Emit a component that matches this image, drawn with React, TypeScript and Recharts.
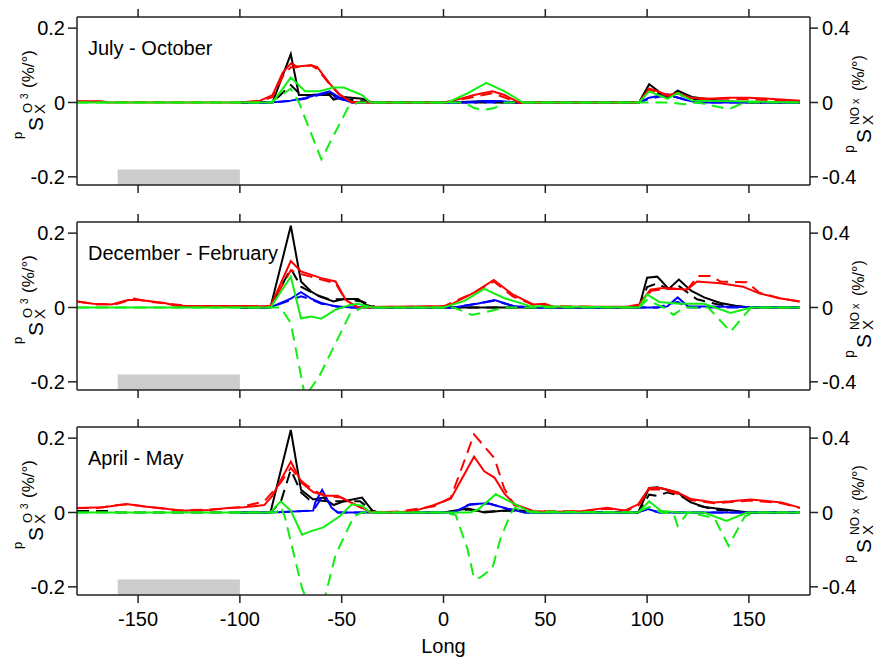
import React from 'react';
import { LineChart, Line, XAxis, YAxis, ReferenceArea } from 'recharts';

type Pt = [number, number];

// ---------- shared axis values ----------
const LONG_TICKS = [-150, -100, -50, 0, 50, 100, 150];
const LONG_DOMAIN: [number, number] = [-180, 180];
const LEFT_TICKS = [-0.2, 0, 0.2];
const LEFT_DOMAIN: [number, number] = [-0.222, 0.23];
const RIGHT_TICKS = [-0.4, 0, 0.4];
const RIGHT_DOMAIN: [number, number] = [-0.444, 0.46];
const SHADE_LON: [number, number] = [-160, -100];
const SHADE_TOP = -0.18;
const PANEL_TITLES = ['July - October', 'December - February', 'April - May'];

// ---------- July - October (solid: O3 left axis, dashed: NOx right axis) ----------
const joBlackS: Pt[] = [[-100, 0], [-84, 0], [-75, 0.13], [-71, 0.02], [-64, 0.02], [-56, 0.02], [-54, 0.008], [-49, 0.015], [-40, 0.01], [-35, 0], [0, 0], [20, 0.003], [30, 0], [96, 0], [101, 0.049], [110, 0.012], [115, 0.032], [122, 0.015], [131, 0.008], [139, 0.003], [150, 0], [175, 0]];
const joBlackD: Pt[] = [[-100, 0], [-84, 0], [-75, 0.094], [-70, 0.04], [-65, 0.04], [-56, 0.05], [-50, 0.02], [-42, 0.01], [-35, 0], [96, 0], [101, 0.07], [110, 0.03], [115, 0.05], [122, 0.02], [135, 0.006], [150, 0], [175, 0]];
const joRedS: Pt[] = [[-180, 0.003], [-168, 0.003], [-165, 0], [-100, 0], [-90, 0.005], [-84, 0.02], [-79, 0.08], [-75, 0.105], [-72, 0.097], [-65, 0.1], [-62, 0.095], [-55.5, 0.048], [-51, 0.022], [-45.5, 0.002], [-40, 0], [0, 0], [5, 0.005], [15, 0.02], [24, 0.03], [30, 0.02], [37, 0], [96, 0], [101, 0.038], [110, 0.02], [115, 0.025], [122, 0.012], [130, 0.01], [140, 0.013], [150, 0.013], [160, 0.01], [175, 0.005]];
const joRedD: Pt[] = [[-180, 0.004], [-100, 0], [-90, 0.006], [-84, 0.03], [-79, 0.14], [-75, 0.19], [-72, 0.19], [-65, 0.2], [-62, 0.18], [-56, 0.1], [-51, 0.04], [-45, 0], [0, 0], [15, 0.03], [24, 0.05], [37, 0], [96, 0], [101, 0.07], [110, 0.036], [115, 0.044], [122, 0.02], [140, 0.02], [175, 0.008]];
const joGreenS: Pt[] = [[-180, 0], [-84, 0], [-75, 0.067], [-68, 0.03], [-61, 0.03], [-54, 0.04], [-49, 0.04], [-40, 0.02], [-36, 0], [2, 0], [12, 0.025], [21, 0.053], [30, 0.03], [39, 0], [96, 0], [101, 0.03], [110, 0.01], [115, 0.025], [122, 0.005], [175, 0]];
const joGreenD: Pt[] = [[-180, 0], [-85, 0], [-75, 0.074], [-71, 0], [-60, -0.306], [-47, -0.03], [-42, 0], [10, 0], [15, -0.03], [20, -0.04], [25, -0.03], [30, 0], [112, 0], [118, -0.01], [125, 0], [140, -0.036], [148, 0], [175, 0]];
const joBlueS: Pt[] = [[-100, 0], [-85, 0], [-75, 0.005], [-68, 0.012], [-56, 0.03], [-50, 0.01], [-45, 0], [10, 0], [20, 0.004], [28, 0.004], [35, 0], [96, 0], [101, 0.013], [110, 0.022], [118, 0.008], [125, 0], [175, 0]];
const joBlueD: Pt[] = [[-100, 0], [-85, 0], [-75, 0.008], [-68, 0.02], [-58, 0.05], [-50, 0.016], [-45, 0], [96, 0], [101, 0.02], [110, 0.04], [125, 0], [175, 0]];

// ---------- December - February ----------
const dfBlackS: Pt[] = [[-100, 0], [-85, 0], [-75, 0.22], [-70, 0.07], [-65, 0.043], [-61, 0.03], [-54, 0.016], [-49, 0.023], [-42, 0.023], [-38, 0.007], [-33, 0], [96, 0], [100, 0.08], [105, 0.083], [110.6, 0.05], [115.6, 0.075], [121.6, 0.045], [128, 0.027], [136, 0.012], [144, 0.004], [151, 0], [175, 0]];
const dfBlackD: Pt[] = [[-100, 0], [-85, 0], [-75, 0.21], [-70, 0.112], [-63, 0.07], [-56, 0.044], [-48, 0.044], [-40, 0.032], [-33, 0], [96, 0], [100, 0.11], [105, 0.13], [110, 0.1], [115, 0.12], [124.5, 0.044], [135, 0.016], [150, 0], [175, 0]];
const dfRedS: Pt[] = [[-180, 0.016], [-172, 0.01], [-163, 0.008], [-155, 0.02], [-150, 0.02], [-146, 0.018], [-137, 0.012], [-131, 0.004], [-115, 0.004], [-98, 0.004], [-85, 0.003], [-75, 0.125], [-70, 0.097], [-60, 0.079], [-53, 0.07], [-48, 0.02], [-42, 0], [-30, 0.002], [0, 0.003], [3.4, 0.007], [15, 0.04], [24.7, 0.074], [34, 0.035], [44, 0.008], [49.6, 0.01], [54, 0.002], [90, 0.002], [96, 0.008], [101.6, 0.048], [106.5, 0.052], [111.4, 0.052], [119.6, 0.048], [124.5, 0.07], [136, 0.065], [147, 0.056], [155, 0.038], [165, 0.025], [175, 0.016]];
const dfRedD: Pt[] = [[-180, 0.032], [-170, 0.016], [-160, 0.02], [-152, 0.048], [-145, 0.032], [-135, 0.02], [-125, 0.008], [-100, 0.008], [-85, 0.006], [-75, 0.2], [-70, 0.18], [-60, 0.15], [-53, 0.13], [-48, 0.04], [-42, 0], [0, 0.006], [15, 0.08], [24.7, 0.14], [34, 0.06], [45, 0.01], [90, 0], [96, 0.01], [102, 0.09], [110, 0.1], [120, 0.1], [125, 0.17], [131, 0.17], [136, 0.14], [149, 0.136], [155, 0.08], [165, 0.05], [175, 0.032]];
const dfGreenS: Pt[] = [[-180, 0], [-85, 0], [-75, 0.083], [-70, -0.029], [-65, -0.024], [-60, -0.03], [-53, -0.006], [-46, 0.007], [-42, 0.01], [-35, 0], [0, 0], [10, 0.017], [20, 0.05], [30, 0.025], [43, 0.003], [96, 0], [100, 0.035], [106, 0.015], [116, 0.01], [128, 0.01], [141, -0.015], [151, 0], [175, 0]];
const dfGreenD: Pt[] = [[-180, 0], [-80, 0], [-75, -0.084], [-68, -0.48], [-61, -0.37], [-46, -0.036], [-40, 0], [5, 0], [14, -0.04], [21, -0.024], [30, 0], [96, 0], [100, 0.04], [108, 0], [113, -0.04], [118, 0], [130, 0], [141, -0.13], [151, 0], [175, 0]];
const dfBlueS: Pt[] = [[-100, 0], [-85, 0], [-75, 0.024], [-70, 0.041], [-65, 0.024], [-60, 0.012], [-53, 0.003], [-45, 0], [5, 0], [16.5, 0.01], [25, 0.02], [35, 0.003], [45, 0], [105, 0], [110, 0.003], [115, 0.027], [120, 0.003], [175, 0]];
const dfBlueD: Pt[] = [[-100, 0], [-85, 0], [-75, 0.04], [-70, 0.06], [-65, 0.044], [-60, 0.02], [-50, 0], [5, 0], [16, 0.02], [25, 0.036], [35, 0.006], [45, 0], [105, 0], [115, 0.03], [120, 0], [175, 0]];

// ---------- April - May ----------
const amBlackS: Pt[] = [[-100, 0], [-85, 0], [-75, 0.222], [-70, 0.061], [-64, 0.035], [-59, 0.04], [-54, 0.02], [-49, 0.03], [-40, 0.04], [-35, 0.005], [-32, 0], [0, 0], [12, 0.011], [20, 0], [35, 0.008], [44, 0], [95.6, 0], [101, 0.066], [105, 0.068], [115, 0.054], [121.6, 0.027], [128, 0.015], [141, 0.006], [150, 0], [175, 0]];
const amBlackD: Pt[] = [[-180, 0.008], [-165, 0.008], [-160, 0], [-85, 0], [-80, 0.054], [-75, 0.23], [-70, 0.108], [-66, 0.07], [-57, 0.06], [-49, 0.06], [-41, 0.06], [-35, 0.01], [-32, 0], [0, 0], [12, 0.016], [20, 0.004], [35, 0.01], [44, 0], [95.6, 0], [101, 0.096], [105, 0.09], [110, 0.108], [116.5, 0.09], [123, 0.044], [133, 0.016], [148, 0], [175, 0]];
const amRedS: Pt[] = [[-180, 0.012], [-167, 0.014], [-155.6, 0.023], [-147, 0.016], [-139, 0.012], [-129, 0.005], [-114.5, 0.007], [-106, 0.012], [-98, 0.014], [-88, 0.02], [-84, 0.045], [-75, 0.137], [-69.5, 0.079], [-64, 0.055], [-58, 0.045], [-52, 0.045], [-43, 0.02], [-36, 0.002], [-25, 0], [-15, 0.003], [-4.6, 0.02], [3.6, 0.037], [15, 0.15], [20, 0.111], [25, 0.094], [30, 0.05], [35, 0.022], [44.5, 0.003], [55, 0.002], [67, 0.003], [80.5, 0.013], [89, 0.005], [95.6, 0.022], [101, 0.066], [106.6, 0.066], [115, 0.054], [121.6, 0.036], [133, 0.027], [141, 0.03], [151, 0.035], [166, 0.027], [175, 0.013]];
const amRedD: Pt[] = [[-180, 0.024], [-170, 0.024], [-160, 0.04], [-155, 0.044], [-145, 0.03], [-130, 0.012], [-115, 0.016], [-100, 0.028], [-88, 0.06], [-80, 0.16], [-75, 0.24], [-70, 0.17], [-64, 0.12], [-58, 0.09], [-50, 0.08], [-43, 0.04], [-36, 0], [-21, 0.006], [-4.6, 0.034], [3.6, 0.08], [15, 0.42], [25, 0.292], [29.8, 0.13], [34.7, 0.04], [44.5, 0.006], [67, 0.006], [80, 0.02], [90, 0.01], [96, 0.04], [101, 0.124], [107, 0.124], [115, 0.1], [122, 0.066], [133, 0.05], [141, 0.056], [151, 0.064], [166, 0.05], [175, 0.024]];
const amGreenS: Pt[] = [[-180, 0], [-85, 0], [-80, 0.03], [-75, 0.005], [-69.5, -0.06], [-65, -0.05], [-59, -0.04], [-51, -0.01], [-45, 0.022], [-40, 0.018], [-36, 0], [13, 0], [17, 0.008], [25.7, 0.049], [36, 0.02], [43, 0], [95.6, 0], [101, 0.03], [106.6, 0.005], [115, 0], [128, 0], [139, -0.023], [149, 0], [175, 0]];
const amGreenD: Pt[] = [[-180, 0], [-82, 0], [-80, 0.03], [-78, -0.02], [-69.5, -0.406], [-66, -0.5], [-59, -0.49], [-53, -0.228], [-44, -0.02], [-40, 0], [0, 0], [6, -0.014], [11.7, -0.194], [15, -0.354], [18, -0.35], [24, -0.3], [28, -0.14], [33, -0.006], [35, 0.026], [39, 0.006], [95, 0], [101, 0.03], [107, 0], [113, -0.006], [115, -0.072], [120, 0], [133, -0.03], [140, -0.18], [148, -0.02], [153, 0], [175, 0]];
const amBlueS: Pt[] = [[-100, 0], [-85, 0], [-64, 0.005], [-63, 0.027], [-59.6, 0.061], [-55, 0.013], [-52, 0], [5, 0], [13, 0.022], [21.6, 0.025], [31.5, 0.01], [39.8, 0], [95, 0], [100, 0.01], [106, 0], [175, 0]];
const amBlueD: Pt[] = [[-100, 0], [-85, 0], [-64, 0.01], [-61, 0.06], [-59, 0.1], [-55, 0.03], [-52, 0], [5, 0], [12, 0.04], [22, 0.05], [31, 0.02], [40, 0], [95, 0], [100, 0.016], [106, 0], [175, 0]];

// ---------- styling ----------
const FONT = '"Liberation Sans", Arial, Helvetica, sans-serif';
const AX = '#222';
const BLACK = '#000000';
const RED = '#ff0000';
const GREEN = '#11ee11';
const BLUE = '#0000ff';
const DASH = '12 7';

type Series = { data: Pt[]; color: string; dashed: boolean };

const panelSeries = (bS: Pt[], bD: Pt[], uS: Pt[], uD: Pt[], rS: Pt[], rD: Pt[], gS: Pt[], gD: Pt[]): Series[] => [
  { data: bS, color: BLACK, dashed: false },
  { data: bD, color: BLACK, dashed: true },
  { data: uS, color: BLUE, dashed: false },
  { data: uD, color: BLUE, dashed: true },
  { data: rS, color: RED, dashed: false },
  { data: rD, color: RED, dashed: true },
  { data: gD, color: GREEN, dashed: true },
  { data: gS, color: GREEN, dashed: false },
];

const PANELS: Series[][] = [
  panelSeries(joBlackS, joBlackD, joBlueS, joBlueD, joRedS, joRedD, joGreenS, joGreenD),
  panelSeries(dfBlackS, dfBlackD, dfBlueS, dfBlueD, dfRedS, dfRedD, dfGreenS, dfGreenD),
  panelSeries(amBlackS, amBlackD, amBlueS, amBlueD, amRedS, amRedD, amGreenS, amGreenD),
];

const toPts = (a: Pt[]) => a.map(([x, y]) => ({ x, y }));
const Empty = () => <g />;

const axisLine = { stroke: AX, strokeWidth: 1.5 };
const tickStyle = { fontSize: 20, fill: '#000', fontFamily: FONT };

function Panel({ series, top, height, last }: { series: Series[]; top: number; height: number; last: boolean }) {
  return (
    <div style={{ position: 'absolute', left: 0, top, width: 883, height }}>
      <LineChart width={883} height={height} margin={{ top: 9, right: 13, left: 17, bottom: last ? 3 : 12 }}>
        <XAxis xAxisId="t" orientation="top" type="number" dataKey="x" domain={LONG_DOMAIN} ticks={LONG_TICKS}
          allowDataOverflow tick={Empty} tickSize={8} height={8} axisLine={axisLine} tickLine={axisLine} />
        <XAxis xAxisId="b" orientation="bottom" type="number" dataKey="x" domain={LONG_DOMAIN} ticks={LONG_TICKS}
          allowDataOverflow tick={last ? tickStyle : Empty} tickSize={8} tickMargin={9} height={last ? 60 : 8}
          axisLine={axisLine} tickLine={axisLine}
          label={last ? { value: 'Long', position: 'insideBottom', offset: 2, fontSize: 20, fill: '#000' } : undefined} />
        <YAxis yAxisId="l" orientation="left" width={60} domain={LEFT_DOMAIN} ticks={LEFT_TICKS} allowDataOverflow
          tick={tickStyle} tickSize={9} tickMargin={3} axisLine={axisLine} tickLine={axisLine} />
        <YAxis yAxisId="r" orientation="right" width={60} domain={RIGHT_DOMAIN} ticks={RIGHT_TICKS} allowDataOverflow
          tick={tickStyle} tickSize={8} tickMargin={4} axisLine={axisLine} tickLine={axisLine} />
        <ReferenceArea xAxisId="b" yAxisId="l" x1={SHADE_LON[0]} x2={SHADE_LON[1]} y1={LEFT_DOMAIN[0]} y2={SHADE_TOP}
          fill="#cccccc" fillOpacity={1} stroke="none" />
        {series.map((s, i) => (
          <Line key={i} xAxisId="b" yAxisId={s.dashed ? 'r' : 'l'} data={toPts(s.data)} dataKey="y" type="linear"
            stroke={s.color} strokeWidth={2} strokeDasharray={s.dashed ? DASH : undefined} dot={false}
            activeDot={false} isAnimationActive={false} />
        ))}
      </LineChart>
    </div>
  );
}

function LeftTitle({ cy }: { cy: number }) {
  return (
    <g transform={`translate(30, ${cy}) rotate(-90)`} fill="#000">
      <text x={-38} y={-8} fontSize={13}>p</text>
      <text x={-30} y={13} fontSize={21}>S</text>
      <text x={-12} y={2} fontSize={13}>O</text>
      <text x={-13} y={15} fontSize={15}>X</text>
      <text x={2} y={-2} fontSize={10}>3</text>
      <text x={13} y={4} fontSize={17}>(%/°)</text>
    </g>
  );
}

function RightTitle({ cy }: { cy: number }) {
  return (
    <g transform={`translate(860, ${cy}) rotate(-90)`} fill="#000">
      <text x={-52} y={-6} fontSize={14}>p</text>
      <text x={-42} y={11} fontSize={21}>S</text>
      <text x={-24} y={-1} fontSize={12}>NO</text>
      <text x={-24} y={13} fontSize={15}>X</text>
      <text x={-3} y={-1} fontSize={11}>x</text>
      <text x={10} y={4} fontSize={16}>(%/°)</text>
    </g>
  );
}

export default function App() {
  const tops = [0, 205, 410];
  const zeros = [101, 306, 511];
  return (
    <div style={{ position: 'absolute', left: 0, top: 0, width: 883, height: 658, background: '#fff', fontFamily: FONT }}>
      {PANELS.map((s, i) => (
        <Panel key={i} series={s} top={tops[i]} height={i === 2 ? 248 : 205} last={i === 2} />
      ))}
      <svg width={883} height={658} style={{ position: 'absolute', left: 0, top: 0, pointerEvents: 'none' }}
        fontFamily={FONT}>
        {PANEL_TITLES.map((t, i) => (
          <text key={t} x={88} y={55 + tops[i]} fontSize={20} fill="#000">{t}</text>
        ))}
        {zeros.map((z) => (
          <g key={z}>
            <LeftTitle cy={z} />
            <RightTitle cy={z} />
          </g>
        ))}
      </svg>
    </div>
  );
}
